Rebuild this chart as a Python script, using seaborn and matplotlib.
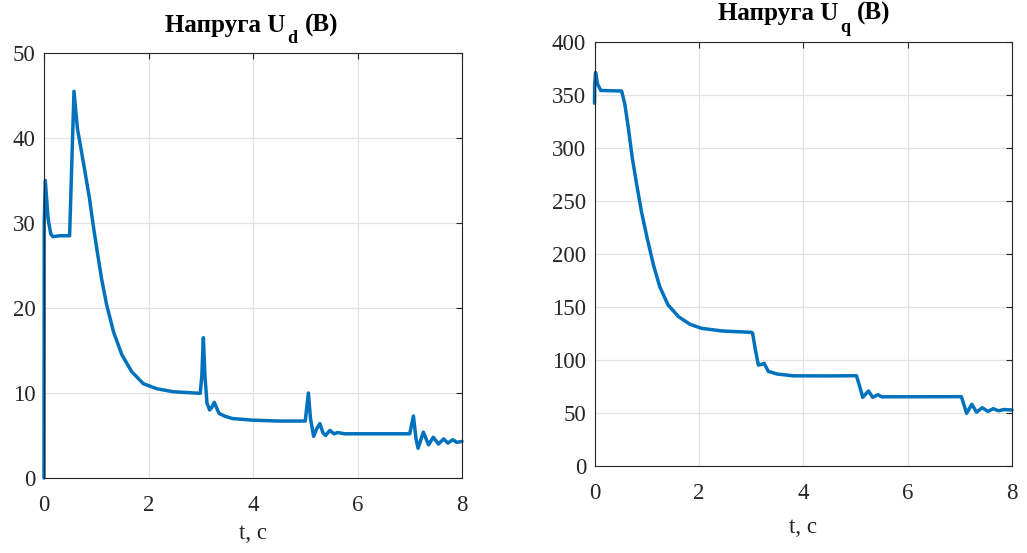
import numpy as np
import pandas as pd
import matplotlib
matplotlib.use("Agg")
import matplotlib.pyplot as plt
from matplotlib.transforms import IdentityTransform
import seaborn as sns

# ---- data ----
ud_t = [0.0, 0.004, 0.025, 0.08, 0.13, 0.17, 0.3, 0.49, 0.574, 0.64, 0.70, 0.785,
        0.87, 0.94, 1.02, 1.10, 1.20, 1.33, 1.49, 1.68, 1.90, 2.16, 2.47, 2.99,
        3.02, 3.05, 3.08, 3.12, 3.17, 3.21, 3.26, 3.3, 3.35, 3.45, 3.6, 4.0, 4.5,
        5.0, 5.06, 5.1, 5.16, 5.22, 5.28, 5.34, 5.39, 5.47, 5.55, 5.62, 5.75, 6.0,
        7.0, 7.07, 7.12, 7.16, 7.26, 7.36, 7.45, 7.55, 7.65, 7.73, 7.82, 7.9, 8.0]
ud_v = [0.0, 30.0, 35.0, 30.4, 28.7, 28.4, 28.5, 28.5, 45.5, 41.1, 39.0, 36.0,
        32.9, 29.8, 26.6, 23.5, 20.35, 17.2, 14.5, 12.5, 11.1, 10.5, 10.15, 9.96,
        12.0, 16.5, 12.0, 8.8, 8.0, 8.3, 8.9, 8.3, 7.6, 7.3, 7.0, 6.8, 6.7,
        6.7, 10.0, 7.0, 4.9, 5.8, 6.4, 5.3, 5.0, 5.6, 5.2, 5.35, 5.2, 5.2,
        5.2, 7.3, 4.6, 3.5, 5.4, 3.9, 4.8, 4.0, 4.6, 4.1, 4.5, 4.2, 4.3]

uq_t = [0.0, 0.003, 0.02, 0.06, 0.12, 0.52, 0.584, 0.65, 0.725, 0.81, 0.90, 1.01,
        1.13, 1.25, 1.41, 1.61, 1.83, 2.05, 2.44, 3.01, 3.03, 3.08, 3.14, 3.2, 3.25,
        3.33, 3.5, 3.81, 4.5, 5.02, 5.08, 5.14, 5.25, 5.33, 5.43, 5.5, 6.0, 7.03,
        7.13, 7.23, 7.32, 7.43, 7.54, 7.64, 7.74, 7.85, 8.0]
uq_v = [342.0, 360.0, 371.0, 360.0, 354.0, 353.5, 340.3, 318.0, 290.0, 264.8, 239.6,
        214.5, 189.3, 168.9, 151.6, 140.6, 133.4, 129.6, 127.1, 125.8, 125.0, 110.0,
        95.0, 95.5, 96.6, 89.0, 86.5, 84.8, 84.7, 84.9, 75.0, 64.5, 70.5, 64.5, 67.0,
        65.0, 65.0, 65.1, 49.5, 57.9, 50.5, 54.7, 51.2, 53.8, 51.8, 53.0, 52.5]

x_ticks = [0, 2, 4, 6, 8]
ud_ticks = [0, 10, 20, 30, 40, 50]
uq_ticks = [0, 50, 100, 150, 200, 250, 300, 350, 400]

title_main = "Напруга U"
title_subs = ["d", "q"]
title_tail = "(В)"
xlabel = "t, c"

# ---- styling ----
sns.set_style("white")
plt.rcParams["font.family"] = ["Liberation Serif", "DejaVu Serif"]

line_color = "#0072BD"
axis_color = "#262626"
grid_color = "#e3e3e3"

W, H = 1027, 553
fig = plt.figure(figsize=(W / 100, H / 100), dpi=100)
ax1 = fig.add_axes([44 / W, 1 - 478 / H, (462 - 44) / W, (478 - 53) / H])
ax2 = fig.add_axes([594.5 / W, 1 - 465.7 / H, (1012 - 594.5) / W, (465.7 - 41.7) / H])

df_d = pd.DataFrame({"t": ud_t, "v": ud_v})
df_q = pd.DataFrame({"t": uq_t, "v": uq_v})

for ax, df, yt, lp in [(ax1, df_d, ud_ticks, 4.5), (ax2, df_q, uq_ticks, 9.5)]:
    sns.lineplot(data=df, x="t", y="v", ax=ax, sort=False, estimator=None,
                 color=line_color, linewidth=2.5)
    for ln in ax.lines:
        ln.set_clip_on(False)
    ax.set_xlim(x_ticks[0], x_ticks[-1])
    ax.set_ylim(yt[0], yt[-1])
    ax.set_xticks(x_ticks)
    ax.set_yticks(yt)
    ax.grid(True, color=grid_color, linewidth=0.9)
    ax.set_axisbelow(True)
    for s in ax.spines.values():
        s.set_visible(True)
        s.set_color(axis_color)
        s.set_linewidth(0.8)
    ax.tick_params(direction="in", length=4, width=0.8, colors=axis_color,
                   top=True, right=True, labelsize=16.5)
    ax.tick_params(axis="x", pad=12.5)
    ax.tick_params(axis="y", pad=6)
    ax.set_xlabel(xlabel, fontsize=16.5, color=axis_color, labelpad=lp)
    ax.set_ylabel("")

# ---- composed titles with a large, low subscript ----
renderer = fig.canvas.get_renderer()


def comp_title(cx, base_y, sub):
    idt = IdentityTransform()
    kw = dict(transform=idt, fontweight="bold", va="baseline", ha="left", color="black")
    t1 = fig.text(0, 0, title_main, fontsize=18, **kw)
    t2 = fig.text(0, 0, sub, fontsize=13, **kw)
    t3 = fig.text(0, 0, title_tail, fontsize=18, **kw)
    w1 = t1.get_window_extent(renderer).width
    w2 = t2.get_window_extent(renderer).width
    w3 = t3.get_window_extent(renderer).width
    gap1, gap2 = 2.0, 7.0
    x0 = cx - (w1 + gap1 + w2 + gap2 + w3) / 2
    y = H - base_y
    t1.set_position((x0, y))
    t2.set_position((x0 + w1 + gap1, y - 11.5))
    t3.set_position((x0 + w1 + gap1 + w2 + gap2, y))


comp_title(251.5, 31.7, title_subs[0])
comp_title(804.0, 20.0, title_subs[1])

fig.savefig("out.png", dpi=100, facecolor="white")
